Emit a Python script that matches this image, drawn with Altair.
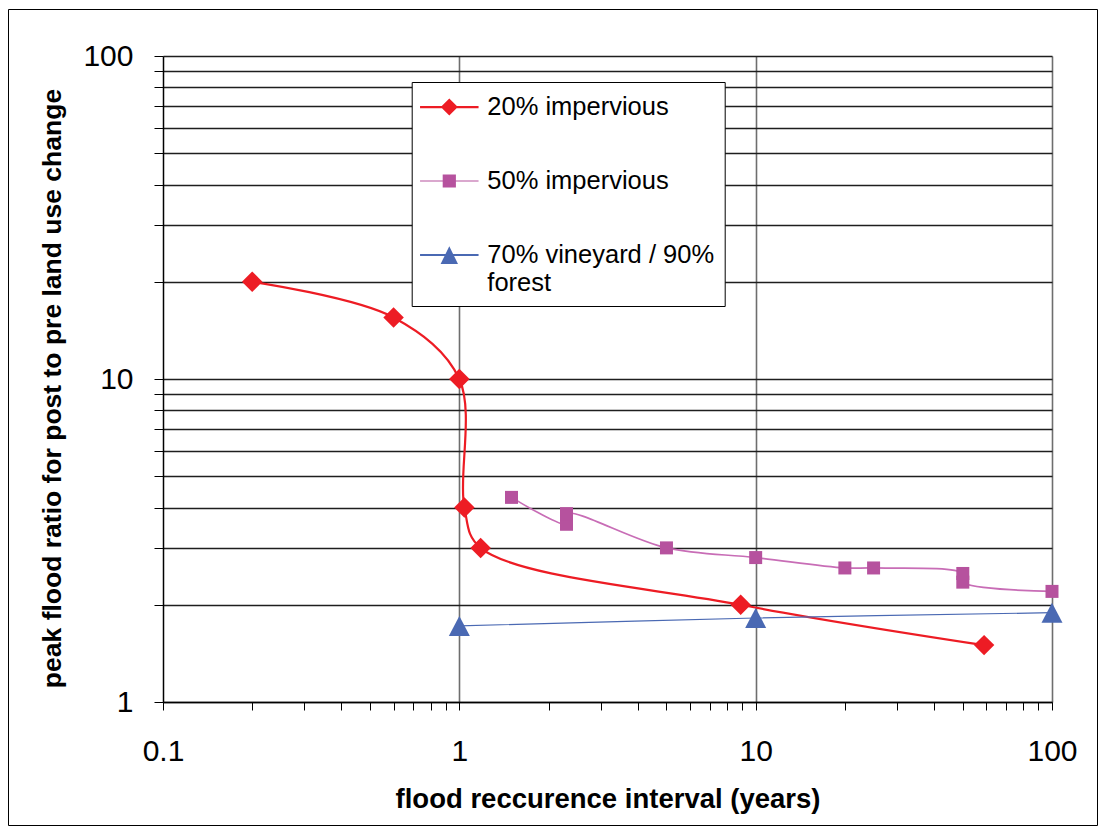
import altair as alt
import pandas as pd

# ---------------- data ----------------
SERIES = ["20% impervious", "50% impervious", "70% vineyard / 90% forest"]

IMP20_X = [0.2, 0.6, 1.0, 1.04, 1.18, 8.9, 59]
IMP20_Y = [20, 15.5, 10, 4.0, 3.0, 2.0, 1.5]

IMP50_X = [1.5, 2.3, 2.3, 5, 10, 20, 25, 50, 50, 100]
IMP50_Y = [4.3, 3.55, 3.83, 3.0, 2.8, 2.6, 2.6, 2.5, 2.35, 2.2]

VIN_X = [1, 10, 100]
VIN_Y = [1.72, 1.82, 1.89]

X_TICKS = [0.1, 0.2, 0.3, 0.4, 0.5, 0.6, 0.7, 0.8, 0.9,
           1, 2, 3, 4, 5, 6, 7, 8, 9,
           10, 20, 30, 40, 50, 60, 70, 80, 90, 100]
Y_TICKS = [1, 2, 3, 4, 5, 6, 7, 8, 9,
           10, 20, 30, 40, 50, 60, 70, 80, 90, 100]

X_TITLE = "flood reccurence interval (years)"
Y_TITLE = "peak flood ratio for post to pre land use change"

rows = []
for name, xs, ys in [(SERIES[0], IMP20_X, IMP20_Y),
                     (SERIES[1], IMP50_X, IMP50_Y),
                     (SERIES[2], VIN_X, VIN_Y)]:
    for i, (xv, yv) in enumerate(zip(xs, ys)):
        rows.append({"series": name, "x": xv, "y": yv, "order": i})
df = pd.DataFrame(rows)

# ---------------- styles ----------------
LINE_COLORS = ["#ED1C24", "#C86DB6", "#4A69B3"]
MARKER_COLORS = ["#ED1C24", "#B6529E", "#4A69B3"]
MARKER_SHAPES = ["diamond", "square", "M0,-0.95L1,0.95L-1,0.95Z"]
MARKER_SIZES = [420, 169, 441]
LEG_PATHS = [
    "M-1.95,-0.075L1.95,-0.075L1.95,0.075L-1.95,0.075Z M0,-0.57L0.57,0L0,0.57L-0.57,0Z",
    "M-1.95,-0.04L1.95,-0.04L1.95,0.04L-1.95,0.04Z M-0.44,-0.44L0.44,-0.44L0.44,0.44L-0.44,0.44Z",
    "M-1.95,-0.07L1.95,-0.07L1.95,0.07L-1.95,0.07Z M0,-0.58L0.58,0.6L-0.58,0.6Z",
]
FONT = "Liberation Sans"

x_enc = alt.X(
    "x:Q",
    title=X_TITLE,
    scale=alt.Scale(type="log", domain=[0.1, 100], nice=False),
    axis=alt.Axis(
        values=X_TICKS,
        format="~g",
        labelExpr="(datum.value==0.1||datum.value==1||datum.value==10||datum.value==100) ? datum.label : ''",
        labelOverlap=False, labelFlush=False,
        labelFont=FONT, labelFontSize=30, labelColor="black", labelPadding=26,
        tickSize=8, tickColor="black", tickWidth=1,
        domainColor="black", domainWidth=1.5,
        grid=True, gridColor="#6e6e6e", gridWidth=1.6,
        gridOpacity={"condition": {"test": "datum.value==1||datum.value==10||datum.value==100", "value": 1}, "value": 0},
        titleFont=FONT, titleFontSize=27.5, titleFontWeight="bold", titleColor="black", titlePadding=19,
    ),
)
y_enc = alt.Y(
    "y:Q",
    title=Y_TITLE,
    scale=alt.Scale(type="log", domain=[1, 100], nice=False),
    axis=alt.Axis(
        values=Y_TICKS,
        format="~g",
        labelExpr="(datum.value==1||datum.value==10||datum.value==100) ? datum.label : ''",
        labelOverlap=False, labelFlush=False,
        labelFont=FONT, labelFontSize=30, labelColor="black", labelPadding=21,
        tickSize=9, tickColor="black", tickWidth=1,
        domainColor="black", domainWidth=1.5,
        grid=True, gridColor="#1e1e1e", gridWidth=1.3,
        titleFont=FONT, titleFontSize=26.5, titleFontWeight="bold", titleColor="black", titlePadding=16,
        titleY=332,
    ),
)

base = alt.Chart(df)

lines = base.mark_line(interpolate="catmull-rom").encode(
    x=x_enc, y=y_enc,
    stroke=alt.Stroke("series:N", scale=alt.Scale(domain=SERIES, range=LINE_COLORS), legend=None),
    strokeWidth=alt.StrokeWidth("series:N", scale=alt.Scale(domain=SERIES, range=[2.2, 1.2, 2.0]), legend=None),
    order="order:Q",
)

point_layers = []
for name, col, shp, sz in zip(SERIES, MARKER_COLORS, MARKER_SHAPES, MARKER_SIZES):
    point_layers.append(
        base.transform_filter(alt.datum.series == name)
        .mark_point(filled=True, opacity=1, fill=col, shape=shp, size=sz, strokeWidth=0)
        .encode(x=x_enc, y=y_enc)
    )

leg_props = dict(
    title=None,
    orient="none", legendX=248.7, legendY=26,
    fillColor="white", strokeColor="black", padding=10,
    symbolSize=900, symbolOffset=12.6, symbolStrokeWidth=0, symbolOpacity=1,
    labelOffset=23, labelFont=FONT, labelFontSize=25.5, labelColor="black", labelLimit=400,
    rowPadding=45,
    labelExpr="datum.value == '70% vineyard / 90% forest' ? ['70% vineyard / 90%', 'forest'] : datum.label",
)

legend_layer = base.transform_filter("false").mark_point(filled=True, opacity=1).encode(
    x=x_enc, y=y_enc,
    fill=alt.Fill("series:N", scale=alt.Scale(domain=SERIES, range=MARKER_COLORS), legend=alt.Legend(**leg_props)),
    shape=alt.Shape("series:N", scale=alt.Scale(domain=SERIES, range=LEG_PATHS), legend=alt.Legend(**leg_props)),
)

frame = alt.Chart(pd.DataFrame({"k": [0]})).mark_rect(
    fillOpacity=0, stroke="black", strokeWidth=1
).encode(
    x=alt.value(-154.5), x2=alt.value(934.5),
    y=alt.value(-46.5), y2=alt.value(769.5),
)

chart = alt.layer(frame, lines, *point_layers, legend_layer).resolve_scale(
    fill="independent", shape="independent"
).properties(
    width=889, height=646,
    autosize=alt.AutoSizeParams(type="none"),
    padding={"left": 155, "top": 48, "right": 46, "bottom": 124},
    background="white",
).configure_view(stroke=None)

chart.save("out.html", embed_options={"renderer": "svg", "actions": False})
